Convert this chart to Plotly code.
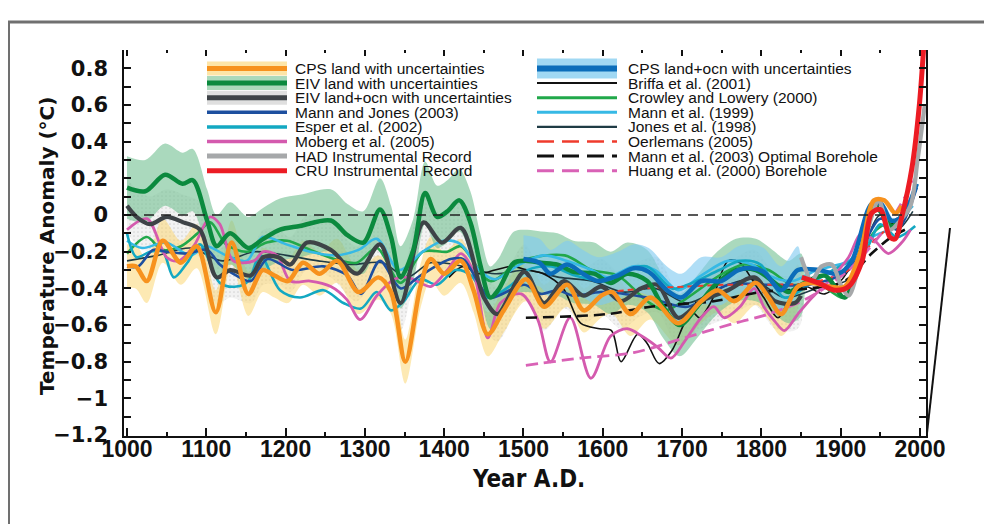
import plotly.graph_objects as go

# ------------------------------------------------------------------
# Data (year A.D., anomaly in deg C)
# ------------------------------------------------------------------
CPS_LAND_YEARS = [1000, 1011, 1025, 1045, 1068, 1088, 1112, 1132, 1153, 1171, 1186, 1203, 1222, 1243, 1265,
                  1292, 1317, 1333, 1351, 1370, 1383, 1400, 1421, 1437, 1455, 1475, 1503, 1526, 1555, 1576,
                  1598, 1612, 1635, 1660, 1695, 1724, 1745, 1766, 1793, 1809, 1825, 1846, 1864, 1885, 1905,
                  1925, 1942, 1955, 1969, 1977]
CPS_LAND_VALUES = [-0.28, -0.28, -0.36, -0.14, -0.26, -0.17, -0.53, -0.15, -0.43, -0.30, -0.33, -0.36, -0.26,
                   -0.32, -0.25, -0.42, -0.34, -0.42, -0.80, -0.39, -0.24, -0.32, -0.25, -0.41, -0.65, -0.52,
                   -0.35, -0.50, -0.38, -0.52, -0.44, -0.42, -0.54, -0.45, -0.59, -0.47, -0.41, -0.47, -0.37,
                   -0.45, -0.54, -0.39, -0.37, -0.39, -0.39, -0.20, 0.08, 0.08, 0.01, 0.05]
CPS_LAND_UNC = 0.12

EIV_LAND_YEARS = [1000, 1023, 1048, 1070, 1083, 1101, 1113, 1130, 1153, 1172, 1193, 1218, 1257, 1278, 1298,
                  1319, 1333, 1345, 1361, 1376, 1391, 1404, 1419, 1433, 1446, 1458, 1468, 1488, 1505, 1522,
                  1543, 1563, 1589, 1610, 1631, 1656, 1676, 1697, 1719, 1742, 1768, 1793, 1814, 1834, 1850,
                  1880, 1905, 1925, 1942, 1950, 1965, 1980]
EIV_LAND_VALUES = [0.15, 0.13, 0.22, 0.17, 0.19, -0.03, -0.17, -0.10, -0.18, -0.13, -0.08, -0.06, -0.03, -0.11,
                   -0.15, 0.03, -0.12, -0.34, -0.19, 0.12, -0.01, 0.02, 0.08, -0.04, -0.28, -0.45, -0.41, -0.26,
                   -0.25, -0.26, -0.27, -0.31, -0.32, -0.37, -0.32, -0.36, -0.50, -0.60, -0.50, -0.38, -0.30,
                   -0.30, -0.36, -0.42, -0.38, -0.33, -0.45, -0.20, 0.05, 0.02, -0.06, 0.02]
EIV_LAND_UNC = 0.17

EIV_LO_YEARS = [1000, 1012, 1029, 1050, 1071, 1092, 1113, 1130, 1156, 1172, 1191, 1206, 1227, 1257, 1290,
                1319, 1345, 1374, 1397, 1421, 1450, 1467, 1501, 1526, 1551, 1576, 1598, 1623, 1648, 1669,
                1695, 1724, 1758, 1791, 1817, 1842, 1850]
EIV_LO_VALUES = [0.05, -0.01, -0.05, -0.01, -0.04, -0.08, -0.34, -0.30, -0.33, -0.23, -0.23, -0.27, -0.15,
                 -0.19, -0.32, -0.16, -0.48, -0.04, -0.15, -0.07, -0.45, -0.54, -0.31, -0.48, -0.36, -0.44,
                 -0.39, -0.47, -0.40, -0.38, -0.56, -0.47, -0.41, -0.34, -0.47, -0.48, -0.44]
EIV_LO_UNC = 0.15

CPS_LO_YEARS = [1500, 1520, 1534, 1555, 1575, 1594, 1619, 1639, 1658, 1681, 1699, 1724, 1749, 1771, 1788,
                1803, 1825, 1846, 1872, 1897, 1914, 1939, 1951, 1964, 1977, 1996]
CPS_LO_VALUES = [-0.24, -0.26, -0.32, -0.27, -0.32, -0.36, -0.33, -0.29, -0.31, -0.41, -0.45, -0.36, -0.36,
                 -0.30, -0.29, -0.31, -0.41, -0.30, -0.30, -0.32, -0.25, 0.06, 0.06, -0.03, -0.01, 0.17]
CPS_LO_UNC = 0.13

MANN_JONES_YEARS = [1000, 1014, 1033, 1050, 1076, 1101, 1117, 1138, 1156, 1177, 1209, 1248, 1278, 1295, 1319,
                    1345, 1370, 1408, 1424, 1442, 1458, 1501, 1522, 1543, 1563, 1598, 1656, 1707, 1758, 1809,
                    1860, 1910, 1950, 1971, 1996]
MANN_JONES_VALUES = [-0.28, -0.28, -0.19, -0.20, -0.21, -0.19, -0.27, -0.33, -0.36, -0.24, -0.30, -0.28, -0.33,
                     -0.43, -0.25, -0.40, -0.33, -0.24, -0.24, -0.36, -0.45, -0.38, -0.43, -0.41, -0.44, -0.42,
                     -0.45, -0.50, -0.38, -0.38, -0.38, -0.30, -0.02, -0.08, 0.15]

ESPER_YEARS = [1000, 1012, 1029, 1045, 1059, 1076, 1092, 1117, 1138, 1153, 1168, 1193, 1218, 1248, 1273, 1295,
               1315, 1333, 1349, 1370, 1391, 1414, 1434, 1454, 1485, 1505, 1535, 1565, 1606, 1631, 1656, 1687,
               1707, 1747, 1773, 1799, 1829, 1860, 1890, 1930, 1950, 1971, 1994]
ESPER_VALUES = [-0.10, -0.23, -0.20, -0.20, -0.34, -0.26, -0.16, -0.37, -0.39, -0.36, -0.22, -0.41, -0.45, -0.41,
                -0.48, -0.51, -0.42, -0.52, -0.47, -0.35, -0.38, -0.30, -0.33, -0.45, -0.38, -0.30, -0.28, -0.33,
                -0.36, -0.30, -0.28, -0.40, -0.38, -0.30, -0.25, -0.27, -0.45, -0.38, -0.30, -0.20, -0.05, -0.12,
                -0.06]

MOBERG_YEARS = [1000, 1025, 1050, 1065, 1084, 1105, 1117, 1134, 1160, 1172, 1189, 1206, 1231, 1257, 1277, 1294,
                1315, 1337, 1354, 1370, 1383, 1404, 1421, 1437, 1455, 1471, 1497, 1518, 1534, 1559, 1585, 1610,
                1631, 1649, 1669, 1686, 1703, 1724, 1740, 1753, 1773, 1791, 1803, 1817, 1829, 1846, 1864, 1885,
                1910, 1926, 1943, 1960, 1977, 1988]
MOBERG_VALUES = [-0.08, -0.02, -0.23, -0.25, -0.17, -0.01, -0.05, -0.25, -0.25, -0.20, -0.22, -0.36, -0.36, -0.39,
                 -0.46, -0.57, -0.44, -0.35, -0.34, -0.37, -0.39, -0.30, -0.21, -0.31, -0.67, -0.48, -0.43, -0.57,
                 -0.80, -0.56, -0.89, -0.66, -0.62, -0.66, -0.72, -0.78, -0.69, -0.56, -0.50, -0.56, -0.50, -0.40,
                 -0.50, -0.58, -0.63, -0.54, -0.45, -0.36, -0.23, -0.10, -0.14, -0.21, -0.15, -0.08]

HAD_YEARS = [1850, 1856, 1863, 1876, 1889, 1901, 1910, 1923, 1939, 1948, 1962, 1975, 1988, 1997, 2006]
HAD_VALUES = [-0.23, -0.30, -0.36, -0.28, -0.27, -0.39, -0.44, -0.28, -0.01, 0.08, -0.08, -0.03, 0.05, 0.30, 0.60]

CRU_YEARS = [1851, 1872, 1893, 1910, 1927, 1939, 1950, 1962, 1969, 1977, 1990, 1999, 2006]
CRU_VALUES = [-0.34, -0.37, -0.41, -0.39, -0.25, 0.01, 0.03, -0.12, -0.13, -0.01, 0.26, 0.59, 1.00]

BRIFFA_YEARS = [1406, 1424, 1444, 1464, 1485, 1505, 1525, 1550, 1572, 1596, 1611, 1623, 1644, 1656, 1671, 1687,
                1703, 1713, 1722, 1737, 1758, 1773, 1788, 1803, 1821, 1837, 1855, 1880, 1910, 1935, 1943, 1955,
                1969]
BRIFFA_VALUES = [-0.34, -0.28, -0.32, -0.30, -0.28, -0.30, -0.32, -0.40, -0.59, -0.62, -0.63, -0.80, -0.65, -0.70,
                 -0.81, -0.74, -0.59, -0.53, -0.56, -0.47, -0.25, -0.26, -0.35, -0.45, -0.56, -0.45, -0.39, -0.43,
                 -0.30, 0.03, 0.08, -0.03, -0.05]

CROWLEY_YEARS = [1000, 1025, 1044, 1068, 1089, 1105, 1125, 1151, 1176, 1202, 1231, 1262, 1290, 1315, 1345, 1373,
                 1404, 1421, 1458, 1497, 1552, 1586, 1619, 1656, 1679, 1707, 1747, 1778, 1809, 1839, 1870, 1905,
                 1925, 1945, 1960, 1976]
CROWLEY_VALUES = [-0.21, -0.12, -0.19, -0.17, -0.10, -0.04, -0.16, -0.20, -0.15, -0.14, -0.19, -0.24, -0.26,
                  -0.18, -0.37, -0.20, -0.20, -0.17, -0.36, -0.25, -0.22, -0.30, -0.33, -0.47, -0.52, -0.45,
                  -0.33, -0.27, -0.30, -0.38, -0.37, -0.45, -0.22, -0.08, -0.05, -0.10]

MANN99_YEARS = [1000, 1019, 1049, 1080, 1100, 1125, 1151, 1171, 1201, 1231, 1262, 1292, 1315, 1343, 1373, 1399,
                1421, 1444, 1464, 1495, 1525, 1555, 1586, 1606, 1639, 1666, 1695, 1724, 1758, 1788, 1809, 1839,
                1870, 1910, 1940, 1960, 1991]
MANN99_VALUES = [-0.14, -0.18, -0.15, -0.22, -0.17, -0.22, -0.25, -0.12, -0.16, -0.20, -0.22, -0.19, -0.13, -0.30,
                 -0.20, -0.14, -0.16, -0.30, -0.35, -0.27, -0.22, -0.25, -0.30, -0.34, -0.28, -0.30, -0.41, -0.33,
                 -0.25, -0.27, -0.33, -0.36, -0.30, -0.25, -0.12, -0.08, 0.05]

JONES_YEARS = [1000, 1039, 1080, 1120, 1161, 1201, 1241, 1282, 1322, 1353, 1383, 1424, 1464, 1505, 1545, 1586,
               1626, 1666, 1707, 1747, 1788, 1829, 1870, 1910, 1950, 1971, 1991]
JONES_VALUES = [-0.25, -0.22, -0.18, -0.25, -0.20, -0.22, -0.25, -0.27, -0.26, -0.34, -0.26, -0.28, -0.32, -0.30,
                -0.34, -0.36, -0.42, -0.40, -0.48, -0.40, -0.35, -0.45, -0.40, -0.35, 0.00, -0.08, 0.02]

OERLEMANS_YEARS = [1606, 1656, 1707, 1758, 1809, 1860, 1910, 1940, 1971, 1990]
OERLEMANS_VALUES = [-0.42, -0.40, -0.39, -0.38, -0.38, -0.37, -0.30, -0.15, -0.02, 0.10]

BOREHOLE_2003_YEARS = [1503, 1606, 1660, 1740, 1799, 1860, 1905, 1939, 1964, 1981]
BOREHOLE_2003_VALUES = [-0.56, -0.54, -0.50, -0.47, -0.42, -0.40, -0.36, -0.21, -0.12, -0.08]

HUANG_YEARS = [1503, 1572, 1639, 1703, 1766, 1809, 1860, 1910, 1960, 1994]
HUANG_VALUES = [-0.82, -0.78, -0.75, -0.67, -0.59, -0.54, -0.45, -0.30, -0.05, 0.20]

ZERO_LINE_YEARS = [1000, 2005]
ZERO_LINE_VALUE = 0.0
BAND_END_YEAR = 1850

X_TICKS = [1000, 1100, 1200, 1300, 1400, 1500, 1600, 1700, 1800, 1900, 2000]
X_RANGE = [996.2, 2007.6]
Y_RANGE = [-1.205, 0.90]

# ------------------------------------------------------------------
# Styles
# ------------------------------------------------------------------
ORANGE = '#F7921E'
YELLOW_BAND = 'rgba(252,212,110,0.52)'
DARK_GREEN = '#0B8A3E'
GREEN_BAND = 'rgba(118,194,148,0.62)'
DARK_GRAY = '#3E4347'
GRAY_BAND = 'rgba(214,214,214,0.45)'
MJ_BLUE = '#1D4F9F'
ESPER_C = '#13A8C2'
MOBERG_C = '#D45AAE'
HAD_C = '#A6A8AA'
CRU_C = '#EC1C24'
BLUE = '#0B6DBA'
BLUE_BAND = 'rgba(128,202,240,0.62)'
BLACK = '#111111'
CROWLEY_C = '#21A84A'
MANN99_C = '#36B9E5'
JONES_C = '#1F3B45'
OERL_C = '#EF3B2C'
HUANG_C = '#D962B6'

SANS = 'Liberation Sans, Arial, Helvetica, sans-serif'
WIDE = 'DejaVu Sans, Verdana, sans-serif'
NARROW = 'Liberation Sans Narrow, Arial Narrow, DejaVu Sans Condensed, Liberation Sans, sans-serif'

# The page adds an 8 px body margin, so the figure is sized to fit the 992x524 window.
PAGE_OFFSET = 8
W, H = 992 - PAGE_OFFSET, 524 - PAGE_OFFSET
# plot-area edges in window pixels
L, R, T, B = 124, 926, 50, 436


def px_x(px):
    return (px - L) / (R - L)


def px_y(py):
    return (B - py) / (B - T)


fig = go.Figure()


def add_band(years, values, half, color, pattern=None):
    xs = [y for y in years if y <= BAND_END_YEAR]
    vs = values[:len(xs)]
    upper = [v + half for v in vs]
    lower = [v - half for v in vs]
    kw = {}
    if pattern:
        kw['fillpattern'] = pattern
    fig.add_trace(go.Scatter(x=xs + xs[::-1], y=upper + lower[::-1], mode='lines', fill='toself',
                             fillcolor=color, line=dict(width=0, shape='spline', smoothing=0.9),
                             hoverinfo='skip', showlegend=False, **kw))


def add_line(years, values, color, width, dash='solid'):
    fig.add_trace(go.Scatter(x=years, y=values, mode='lines',
                             line=dict(color=color, width=width, dash=dash, shape='spline', smoothing=0.9),
                             hoverinfo='skip', showlegend=False))


# uncertainty bands
add_band(EIV_LO_YEARS, EIV_LO_VALUES, EIV_LO_UNC, GRAY_BAND,
         pattern=dict(shape='.', fgcolor='rgba(175,175,175,0.45)', bgcolor='rgba(230,230,230,0.55)',
                      size=4, solidity=0.15, fillmode='replace'))
add_band(CPS_LAND_YEARS, CPS_LAND_VALUES, CPS_LAND_UNC, YELLOW_BAND)
add_band(EIV_LAND_YEARS, EIV_LAND_VALUES, EIV_LAND_UNC, GREEN_BAND)
add_band(CPS_LO_YEARS, CPS_LO_VALUES, CPS_LO_UNC, BLUE_BAND)

# zero reference line (on the top overlay axis so that axis is drawn)
fig.add_trace(go.Scatter(x=ZERO_LINE_YEARS, y=[ZERO_LINE_VALUE] * len(ZERO_LINE_YEARS), mode='lines',
                         xaxis='x2', line=dict(color='#222222', width=1.5, dash='10px,7px'),
                         hoverinfo='skip', showlegend=False))

# thin / medium series
add_line(JONES_YEARS, JONES_VALUES, JONES_C, 1.6)
add_line(BRIFFA_YEARS, BRIFFA_VALUES, BLACK, 1.6)
add_line(CROWLEY_YEARS, CROWLEY_VALUES, CROWLEY_C, 2.6)
add_line(MANN99_YEARS, MANN99_VALUES, MANN99_C, 2.6)
add_line(ESPER_YEARS, ESPER_VALUES, ESPER_C, 2.6)
add_line(MOBERG_YEARS, MOBERG_VALUES, MOBERG_C, 2.8)
add_line(MANN_JONES_YEARS, MANN_JONES_VALUES, MJ_BLUE, 2.6)
add_line(OERLEMANS_YEARS, OERLEMANS_VALUES, OERL_C, 2.0, '6px,4px')
add_line(BOREHOLE_2003_YEARS, BOREHOLE_2003_VALUES, BLACK, 2.6, '11px,6px')
add_line(HUANG_YEARS, HUANG_VALUES, HUANG_C, 2.8, '12px,6px')
# thick reconstructions and instrumental records
add_line(EIV_LO_YEARS, EIV_LO_VALUES, DARK_GRAY, 4.2)
add_line(EIV_LAND_YEARS, EIV_LAND_VALUES, DARK_GREEN, 4.5)
add_line(CPS_LO_YEARS, CPS_LO_VALUES, BLUE, 4.5)
add_line(HAD_YEARS, HAD_VALUES, HAD_C, 4.2)
add_line(CPS_LAND_YEARS, CPS_LAND_VALUES, ORANGE, 4.5)
add_line(CRU_YEARS, CRU_VALUES, CRU_C, 5.0)

# ------------------------------------------------------------------
# Legend (drawn by hand in two columns)
# ------------------------------------------------------------------
LEGEND_COL1 = [
    ('CPS land with uncertainties', ORANGE, 5, 'solid', 'rgba(252,212,110,0.6)', 14),
    ('EIV land with uncertainties', DARK_GREEN, 5, 'solid', 'rgba(150,208,170,0.8)', 14),
    ('EIV land+ocn with uncertainties', DARK_GRAY, 5, 'solid', 'rgba(215,215,215,0.8)', 14),
    ('Mann and Jones (2003)', MJ_BLUE, 3.5, 'solid', None, 0),
    ('Esper et al. (2002)', ESPER_C, 3.5, 'solid', None, 0),
    ('Moberg et al. (2005)', MOBERG_C, 3.5, 'solid', None, 0),
    ('HAD Instrumental Record', HAD_C, 5, 'solid', None, 0),
    ('CRU Instrumental Record', CRU_C, 5, 'solid', None, 0),
]
LEGEND_COL2 = [
    ('CPS land+ocn with uncertainties', BLUE, 6, 'solid', 'rgba(150,212,242,0.9)', 20),
    ('Briffa et al. (2001)', BLACK, 2, 'solid', None, 0),
    ('Crowley and Lowery (2000)', CROWLEY_C, 3, 'solid', None, 0),
    ('Mann et al. (1999)', MANN99_C, 3, 'solid', None, 0),
    ('Jones et al. (1998)', JONES_C, 2.2, 'solid', None, 0),
    ('Oerlemans (2005)', OERL_C, 2.5, '17px,8px', None, 0),
    ('Mann et al. (2003) Optimal Borehole', BLACK, 3, '17px,8px', None, 0),
    ('Huang et al. (2000) Borehole', HUANG_C, 3, '17px,8px', None, 0),
]

shapes = []
annotations = []
ROW0, ROW_STEP = 68.5, 14.6
for col, (sx0, sx1, tx) in zip([LEGEND_COL1, LEGEND_COL2], [(207, 287, 293), (537, 617, 626)]):
    for i, (name, color, width, dash, band, bw) in enumerate(col):
        yy = px_y(ROW0 + i * ROW_STEP)
        if band:
            shapes.append(dict(type='line', xref='paper', yref='paper', x0=px_x(sx0), x1=px_x(sx1),
                               y0=yy, y1=yy, line=dict(color=band, width=bw)))
        shapes.append(dict(type='line', xref='paper', yref='paper', x0=px_x(sx0), x1=px_x(sx1),
                           y0=yy, y1=yy, line=dict(color=color, width=width, dash=dash)))
        annotations.append(dict(text=name, xref='paper', yref='paper', x=px_x(tx), y=yy,
                                xanchor='left', yanchor='middle', showarrow=False,
                                font=dict(family=SANS, size=15.5, color='#111111')))

# page frame (scan border) and stray scan stroke
shapes.append(dict(type='line', xref='paper', yref='paper', x0=px_x(PAGE_OFFSET), x1=px_x(992),
                   y0=px_y(22), y1=px_y(22), line=dict(color='#707070', width=3)))
shapes.append(dict(type='line', xref='paper', yref='paper', x0=px_x(PAGE_OFFSET + 1), x1=px_x(PAGE_OFFSET + 1),
                   y0=px_y(22), y1=px_y(524), line=dict(color='#707070', width=2)))
shapes.append(dict(type='line', xref='paper', yref='paper', x0=px_x(927), x1=px_x(950), y0=px_y(433),
                   y1=px_y(228), line=dict(color='#111111', width=2)))

# axis titles
annotations.append(dict(text='Temperature Anomaly (°C)', xref='paper', yref='paper', x=px_x(47),
                        y=px_y(246), textangle=-90, showarrow=False, xanchor='center', yanchor='middle',
                        font=dict(family=WIDE, size=20, color='#111111', weight='bold')))
annotations.append(dict(text='Year A.D.', xref='paper', yref='paper', x=px_x(528), y=px_y(479),
                        showarrow=False, xanchor='center', yanchor='middle',
                        font=dict(family=NARROW, size=24, color='#111111', weight='bold')))

axis_common = dict(showgrid=False, zeroline=False, ticks='inside', tickcolor='#111111', tickwidth=1.5)

fig.update_layout(
    width=W, height=H,
    margin=dict(l=L - PAGE_OFFSET, r=992 - R, t=T - PAGE_OFFSET, b=524 - B, pad=0),
    paper_bgcolor='white', plot_bgcolor='white',
    showlegend=False,
    shapes=shapes,
    annotations=annotations,
    xaxis=dict(range=X_RANGE, tickvals=X_TICKS, ticklen=8, showline=True, linecolor='#111111',
               linewidth=1.5, mirror=False,
               minor=dict(dtick=50, tick0=1000, ticks='inside', ticklen=4, tickcolor='#111111', tickwidth=1.5),
               tickfont=dict(family=SANS, size=23, color='#111111', weight='bold'),
               ticklabelstandoff=-8, **axis_common),
    xaxis2=dict(range=X_RANGE, overlaying='x', side='top', anchor='y', tickvals=X_TICKS, ticklen=6,
                showticklabels=False, showline=False,
                minor=dict(dtick=50, tick0=1000, ticks='inside', ticklen=3, tickcolor='#111111', tickwidth=1.5),
                **axis_common),
    yaxis=dict(range=Y_RANGE, dtick=0.2, tick0=0, ticklen=7, showline=True, linecolor='#111111',
               linewidth=1.5, mirror='ticks',
               minor=dict(dtick=0.1, tick0=0, ticks='inside', ticklen=7, tickcolor='#111111', tickwidth=1.5),
               tickfont=dict(family=WIDE, size=21, color='#111111', weight='bold'),
               ticklabelstandoff=10, **axis_common),
)

fig.write_html('out.html')
